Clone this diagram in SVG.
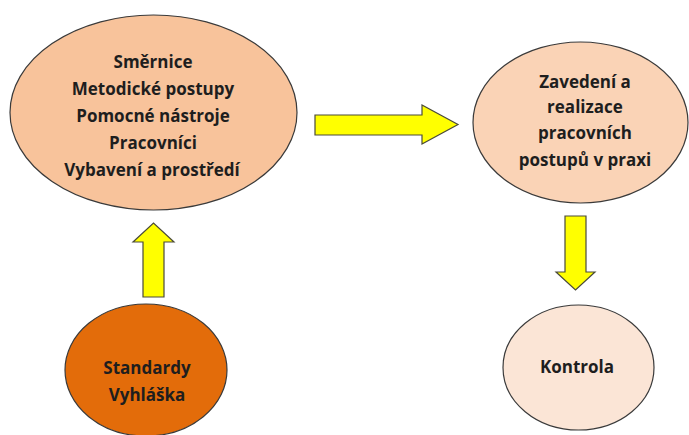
<svg xmlns="http://www.w3.org/2000/svg" width="689" height="435" viewBox="0 0 689 435">
<style>
.node ellipse{stroke:#3a3a3a;stroke-width:1.2}
.t{font-family:"Open Sans","Liberation Sans",Arial,sans-serif;font-weight:bold;font-size:17px;fill:#1e1e1e;text-anchor:middle}
.arrow{fill:#ffff00;stroke:#4a4a3a;stroke-width:1.2;stroke-linejoin:miter}
</style>
<rect width="689" height="435" fill="#ffffff"/>
<g id="connectors">
<polygon class="arrow" points="315,115 422,115 422,105 458,124.5 422,144 422,135 315,135"/>
<polygon class="arrow" points="143,297 143,242 133,242 153.5,223 174,242 164,242 164,297"/>
<polygon class="arrow" points="565,216 586,216 586,272 595,272 575.5,290 556,272 565,272"/>
</g>
<g id="node-smernice" class="node">
<ellipse cx="153.5" cy="112.5" rx="143.5" ry="97.5" fill="#f8c39b"/>
<text class="t" x="153" y="68">Směrnice</text>
<text class="t" x="153" y="95">Metodické postupy</text>
<text class="t" x="153" y="122">Pomocné nástroje</text>
<text class="t" x="153" y="149">Pracovníci</text>
<text class="t" x="152" y="176">Vybavení a prostředí</text>
</g>
<g id="node-zavedeni" class="node">
<ellipse cx="580.5" cy="122.5" rx="107.5" ry="80.5" fill="#fad3b6"/>
<text class="t" x="585" y="88">Zavedení a</text>
<text class="t" x="585" y="113">realizace</text>
<text class="t" x="585" y="139">pracovních</text>
<text class="t" x="585" y="166">postupů v praxi</text>
</g>
<g id="node-standardy" class="node">
<ellipse cx="146" cy="370" rx="81" ry="66" fill="#e36c0a"/>
<text class="t" x="147" y="374">Standardy</text>
<text class="t" x="147" y="401">Vyhláška</text>
</g>
<g id="node-kontrola" class="node">
<ellipse cx="578.5" cy="367.5" rx="75.5" ry="62.5" fill="#fbe5d6"/>
<text class="t" x="577" y="373">Kontrola</text>
</g>
</svg>
